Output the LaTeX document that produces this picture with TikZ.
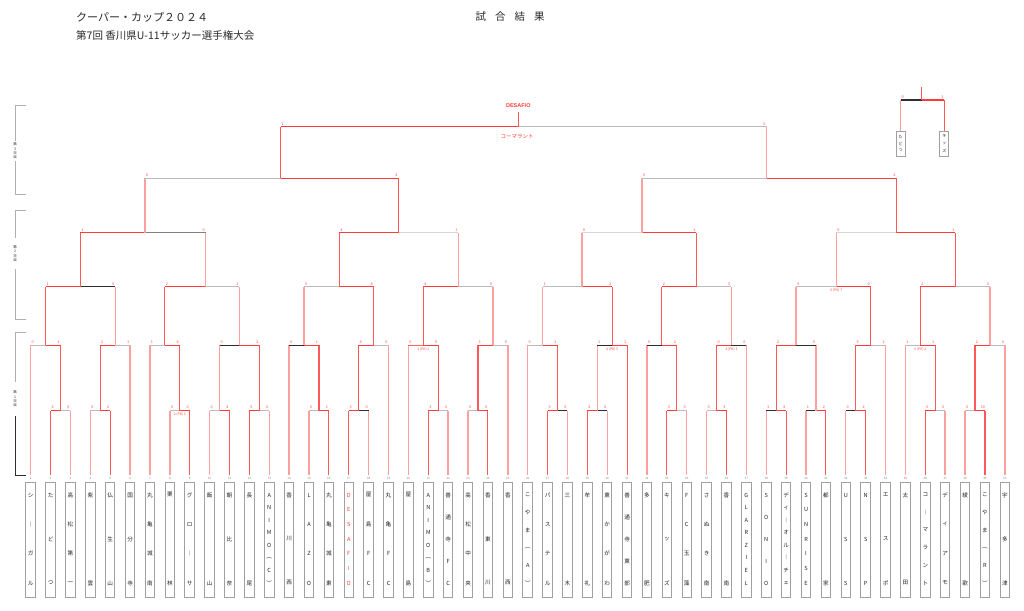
\documentclass[tikz,border=0pt]{standalone}
\usepackage{fontspec}
\setmainfont{Noto Sans CJK JP}
\newfontfamily\lat{Liberation Sans}
\definecolor{winc}{HTML}{FF3B3B}
\definecolor{pinkc}{HTML}{FFA0A0}
\definecolor{greyc}{HTML}{BBBBBB}
\definecolor{blackc}{HTML}{2E2E2E}
\definecolor{dgreyc}{HTML}{808080}
\definecolor{lgreyc}{HTML}{D6D6D6}
\definecolor{scorec}{HTML}{FF4A4A}
\definecolor{boxc}{HTML}{A0A0A0}
\definecolor{namec}{HTML}{222222}
\definecolor{numc}{HTML}{888888}
\definecolor{sidec}{HTML}{AFAFAF}
\definecolor{titlec}{HTML}{2A2A2A}

% match: name, left, right, y, joint x, left score, right score, left style, right style
\newcommand\mt[9]{%
  \coordinate (#1) at (#5,#4);
  \coordinate (#1L) at (#2 |- #1);
  \coordinate (#1R) at (#3 |- #1);
  \draw[#8v] (#2) -- (#1L);
  \draw[#9v] (#3) -- (#1R);
  \draw[#8] (#1L) -- (#1);
  \draw[#9] (#1) -- (#1R);
  \node[sc] (#1ls) at ([xshift=2pt,yshift=3pt]#1L) {#6};
  \node[sc] (#1rs) at ([xshift=-2pt,yshift=3pt]#1R) {#7};
}
\newcommand\pk[2]{\node[pks] (#1pk) at ([yshift=-3.8pt]#1) {#2};}
% team: index, number of characters, characters, colour
\newcommand\team[4]{%
  \pgfmathsetmacro\tx{30.7+19.88*(#1-1)}%
  \coordinate (T#1) at (\tx,475);
  \node[tbox] (B#1) at (\tx,539.5) {};
  \node[tnum] (K#1) at (\tx,478.3) {#1};
  \foreach \ch [count=\k] in {#3} {\node[vch,text=#4] (N#1-\k) at (\tx,{495+(\k-1)*88/(#2-1)}) {\ch};}
}

\begin{document}
\begin{tikzpicture}[x=1pt,y=-1pt,
  wl/.style={draw=winc, line width=1.1pt},
  lg/.style={draw=greyc, line width=1.1pt},
  lk/.style={draw=blackc, line width=1.1pt},
  ld/.style={draw=dgreyc, line width=1.4pt},
  ll/.style={draw=lgreyc, line width=1.3pt},
  lr/.style={draw=winc!80, line width=1.1pt},
  wlv/.style={draw=winc!85, line width=1.1pt},
  lgv/.style={draw=pinkc, line width=1.4pt},
  lkv/.style={draw=pinkc, line width=1.4pt},
  ldv/.style={draw=pinkc, line width=1.4pt},
  llv/.style={draw=pinkc, line width=1.4pt},
  lrv/.style={draw=pinkc, line width=1.4pt},
  tbox/.style={draw=boxc, line width=1pt, fill=white, minimum width=9.5pt, minimum height=115pt, inner sep=0},
  pbox/.style={draw=boxc, line width=0.9pt, fill=white, minimum width=9pt, minimum height=25.7pt, inner sep=0},
  tnum/.style={inner sep=0, font=\fontsize{3}{3}\selectfont, text=numc},
  vch/.style={inner sep=0, font=\fontsize{5.6}{5.6}\selectfont},
  pch/.style={inner sep=0, font=\fontsize{4}{4}\selectfont, text=namec},
  sc/.style={inner sep=0, font=\fontsize{3.8}{3.8}\selectfont, text=scorec},
  pks/.style={inner sep=0, font=\fontsize{3.4}{3.4}\selectfont, text=scorec},
  side/.style={draw=sidec, line width=1pt},
  sidek/.style={draw=blackc, line width=1pt},
  sidel/.style={inner sep=0, align=center, font=\fontsize{3.5}{4.4}\selectfont, text=titlec}]
\useasboundingbox[fill=white] (0,0) rectangle (1024,610);

% titles
\node[anchor=west, inner sep=0, text=titlec, font=\fontsize{11}{12}\selectfont] (title1) at (76,17) {クーパー・カップ２０２４};
\node[anchor=west, inner sep=0, text=titlec, font=\fontsize{10.5}{12}\selectfont] (title2) at (76,36) {第7回 香川県U-11サッカー選手権大会};
\node[inner sep=0, text=titlec, font=\fontsize{10.5}{12}\selectfont] (title3) at (510,17) {試\hspace{9pt}合\hspace{9pt}結\hspace{9pt}果};

% side brackets
\draw[side] (25.7,105.7) -- (15.3,105.7) -- (15.3,141);
\draw[side] (15.3,161) -- (15.3,194.3) -- (25.7,194.3);
\node[sidel] (D3) at (15,151) {第\\3\\日\\目};
\draw[side] (25.7,210.7) -- (15.3,210.7) -- (15.3,238);
\draw[side] (15.3,269) -- (15.3,319) -- (25.7,319);
\node[sidel] (D2) at (15,253.5) {第\\2\\日\\目};
\draw[side] (25.7,332) -- (15.3,332) -- (15.3,382);
\draw[sidek] (15.3,416) -- (15.3,475) -- (25.7,475);
\node[sidel] (D1) at (15,399) {第\\1\\日\\目};

% teams
\team{1}{4}{シ,︱,ガ,ル}{namec}
\team{2}{3}{た,ど,つ}{namec}
\team{3}{4}{高,松,第,一}{namec}
\team{4}{2}{紫,雲}{namec}
\team{5}{3}{仏,生,山}{namec}
\team{6}{3}{国,分,寺}{namec}
\team{7}{4}{丸,亀,城,南}{namec}
\team{8}{2}{栗,林}{namec}
\team{9}{4}{グ,ロ,︱,サ}{namec}
\team{10}{2}{飯,山}{namec}
\team{11}{3}{朝,比,奈}{namec}
\team{12}{2}{長,尾}{namec}
\team{13}{8}{A,N,I,M,O,︵,C,︶}{namec}
\team{14}{3}{香,川,西}{namec}
\team{15}{4}{L,A,Z,O}{namec}
\team{16}{4}{丸,亀,城,東}{namec}
\team{17}{7}{D,E,S,A,F,I,O}{winc}
\team{18}{4}{屋,島,F,C}{namec}
\team{19}{4}{丸,亀,F,C}{namec}
\team{20}{2}{屋,島}{namec}
\team{21}{8}{A,N,I,M,O,︵,B,︶}{namec}
\team{22}{5}{善,通,寺,F,C}{namec}
\team{23}{4}{高,松,中,央}{namec}
\team{24}{3}{香,東,川}{namec}
\team{25}{2}{香,西}{namec}
\team{26}{6}{こ,や,ま,︵,A,︶}{namec}
\team{27}{4}{パ,ス,テ,ル}{namec}
\team{28}{2}{三,木}{namec}
\team{29}{2}{牟,礼}{namec}
\team{30}{4}{東,か,が,わ}{namec}
\team{31}{5}{善,通,寺,東,部}{namec}
\team{32}{2}{多,肥}{namec}
\team{33}{3}{キ,ッ,ズ}{namec}
\team{34}{4}{F,C,玉,藻}{namec}
\team{35}{4}{さ,ぬ,き,南}{namec}
\team{36}{2}{香,南}{namec}
\team{37}{8}{G,L,A,R,Z,I,E,L}{namec}
\team{38}{5}{S,O,N,I,O}{namec}
\team{39}{8}{デ,ィ,︱,オ,ル,︱,チ,ェ}{namec}
\team{40}{7}{S,U,N,R,I,S,E}{namec}
\team{41}{2}{都,家}{namec}
\team{42}{3}{U,S,S}{namec}
\team{43}{3}{N,S,P}{namec}
\team{44}{3}{エ,ス,ポ}{namec}
\team{45}{2}{太,田}{namec}
\team{46}{6}{コ,︱,マ,ラ,ン,ト}{namec}
\team{47}{4}{デ,ィ,ア,モ}{namec}
\team{48}{2}{綾,歌}{namec}
\team{49}{6}{こ,や,ま,︵,R,︶}{namec}
\team{50}{3}{宇,多,津}{namec}

% round 1
\mt{m2}{T2}{T3}{410.5}{60.52}{4}{0}{wl}{lg}
\mt{m4}{T4}{T5}{410.5}{100.28}{0}{2}{lg}{wl}
\mt{m8}{T8}{T9}{410.5}{179.8}{0}{0}{lg}{wl}
\pk{m8}{2 (PK) 3}
\mt{m10}{T10}{T11}{410.5}{219.56}{0}{4}{lg}{wl}
\mt{m12}{T12}{T13}{410.5}{259.32}{5}{0}{wl}{lg}
\mt{m15}{T15}{T16}{410.5}{318.96}{0}{1}{lg}{wl}
\mt{m17}{T17}{T18}{410.5}{358.72}{3}{0}{wl}{lk}
\mt{m21}{T21}{T22}{410.5}{438.24}{3}{2}{wl}{lg}
\mt{m23}{T23}{T24}{410.5}{478}{0}{4}{lg}{wl}
\mt{m27}{T27}{T28}{410.5}{557.52}{3}{0}{wl}{lk}
\mt{m29}{T29}{T30}{410.5}{597.28}{2}{0}{wl}{lk}
\mt{m33}{T33}{T34}{410.5}{676.8}{3}{0}{wl}{lg}
\mt{m35}{T35}{T36}{410.5}{716.56}{0}{3}{lg}{wl}
\mt{m38}{T38}{T39}{410.5}{776.2}{1}{4}{lk}{wl}
\mt{m40}{T40}{T41}{410.5}{815.96}{1}{2}{lk}{wl}
\mt{m42}{T42}{T43}{410.5}{855.72}{0}{2}{lk}{wl}
\mt{m46}{T46}{T47}{410.5}{935.24}{6}{0}{wl}{lg}
\mt{m48}{T48}{T49}{410.5}{975}{0}{10}{lg}{wl}

% round 2
\mt{n1}{T1}{m2}{345.3}{45.6}{0}{1}{lg}{wl}
\mt{n2}{m4}{T6}{345.3}{115.2}{2}{1}{wl}{lg}
\mt{n3}{T7}{m8}{345.3}{164.9}{1}{4}{lg}{wl}
\mt{n4}{m10}{m12}{345.3}{239.44}{0}{2}{lk}{wl}
\mt{n5}{T14}{m15}{345.3}{304.05}{0}{1}{lk}{wl}
\mt{n6}{m17}{T19}{345.3}{373.63}{4}{0}{wl}{lg}
\mt{n7}{T20}{m21}{345.3}{423.33}{0}{0}{lr}{wl}
\pk{n7}{1 (PK) 2}
\mt{n8}{m23}{T25}{345.3}{492.91}{1}{0}{wl}{lg}
\mt{n9}{T26}{m27}{345.3}{542.61}{0}{2}{lg}{wl}
\mt{n10}{m29}{T31}{345.3}{612.19}{1}{1}{lk}{wl}
\pk{n10}{4 (PK) 5}
\mt{n11}{T32}{m33}{345.3}{661.92}{0}{2}{lk}{wl}
\mt{n12}{m35}{T37}{345.3}{731.47}{0}{0}{wl}{lk}
\pk{n12}{4 (PK) 3}
\mt{n13}{m38}{m40}{345.3}{796.08}{2}{0}{wl}{lk}
\mt{n14}{m42}{T44}{345.3}{870.63}{3}{2}{wl}{lg}
\mt{n15}{T45}{m46}{345.3}{920.33}{1}{1}{lg}{wl}
\pk{n15}{0 (PK) 2}
\mt{n16}{m48}{T50}{345.3}{989.91}{2}{0}{wl}{lg}

% round 3
\mt{r1}{n1}{n2}{286.7}{80.4}{1}{0}{wl}{lk}
\mt{r2}{n3}{n4}{286.7}{205.7}{2}{1}{wl}{lg}
\mt{r3}{n5}{n6}{286.7}{339.3}{0}{4}{lg}{wl}
\mt{r4}{n7}{n8}{286.7}{458.3}{4}{0}{wl}{lg}
\mt{r5}{n9}{n10}{286.7}{582}{1}{2}{lg}{wl}
\mt{r6}{n11}{n12}{286.7}{696.3}{2}{0}{wl}{lg}
\mt{r7}{n13}{n14}{286.7}{836.3}{0}{0}{lg}{wl}
\pk{r7}{6 (PK) 7}
\mt{r8}{n15}{n16}{286.7}{955.3}{2}{0}{wl}{lg}

% round 4
\mt{q1}{r1}{r2}{232.7}{145}{1}{0}{wl}{ld}
\mt{q2}{r3}{r4}{232.7}{398.3}{4}{1}{wl}{ll}
\mt{q3}{r5}{r6}{232.7}{642}{0}{1}{ll}{wl}
\mt{q4}{r7}{r8}{232.7}{896.3}{0}{1}{ll}{wl}

% semifinals
\mt{s1}{q1}{q2}{178.3}{280.5}{0}{2}{lg}{wl}
\mt{s2}{q3}{q4}{178.3}{766.5}{0}{2}{lg}{wl}

% final
\mt{f}{s1}{s2}{126.7}{518.3}{1}{0}{wl}{lg}
\coordinate (fw) at (518.3,111.7);
\draw[wlv] (f) -- (fw);
\node[inner sep=0, text=winc, font=\lat\bfseries\fontsize{5.5}{5.5}\selectfont] (champ) at (518.3,106) {DESAFIO};
\node[inner sep=0, text=winc, font=\fontsize{5.5}{5.5}\selectfont] (runner) at (517,136) {コーマラント};

% third place
\coordinate (P1) at (900.6,131);
\coordinate (P2) at (944.4,131);
\node[pbox] (PB1) at (900.6,143.85) {};
\node[pbox] (PB2) at (944.4,143.85) {};
\node[pch] (PN1a) at (900.6,136.5) {た};
\node[pch] (PN1b) at (900.6,143.5) {ど};
\node[pch] (PN1c) at (900.6,150.5) {つ};
\node[pch] (PN2a) at (944.4,136.5) {キ};
\node[pch] (PN2b) at (944.4,143.5) {ッ};
\node[pch] (PN2c) at (944.4,150.5) {ズ};
\mt{tp}{P1}{P2}{100}{921.6}{0}{1}{lk}{wl}
\coordinate (tpw) at (921.6,87.3);
\draw[wlv] (tp) -- (tpw);
\end{tikzpicture}
\end{document}
